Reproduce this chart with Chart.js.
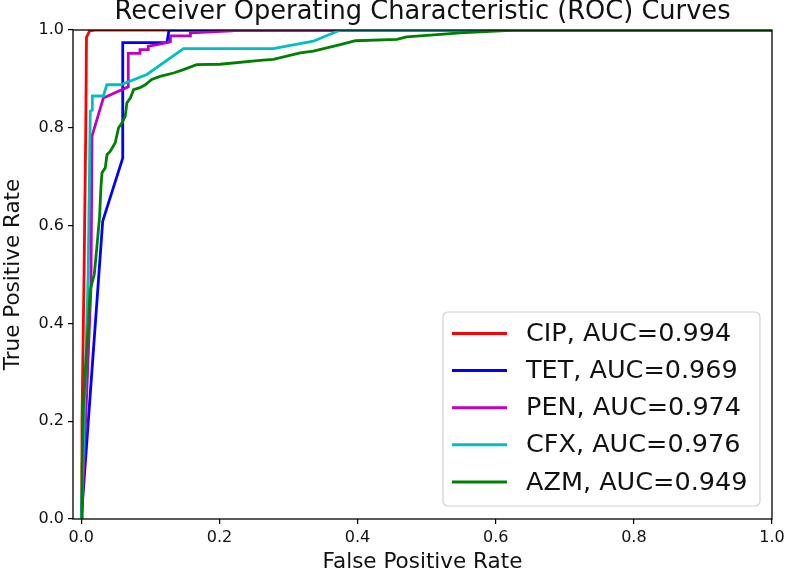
<!DOCTYPE html>
<html>
<head>
<meta charset="utf-8">
<script src="https://cdn.jsdelivr.net/npm/chart.js@4"></script>
<style>
  html, body { margin: 0; padding: 0; background: #fff; }
  #wrap { width: 786px; height: 575px; }
</style>
</head>
<body>
<div id="wrap"><canvas id="rocChart" width="786" height="575"></canvas></div>
<script>
// Valores (FPR / TPR de cada curva)
const chartTitle = "Receiver Operating Characteristic (ROC) Curves";
const seriesNames = ["CIP, AUC=0.994", "TET, AUC=0.969", "PEN, AUC=0.974", "CFX, AUC=0.976", "AZM, AUC=0.949"];
const seriesColors = ["#ff0000", "#0000ff", "#bf00bf", "#00bfbf", "#008000"];

const cipFpr = [0, 0.001, 0.004, 0.0065, 0.0075, 0.012, 0.02, 1];
const cipTpr = [0, 0.2, 0.5, 0.8, 0.985, 0.998, 1, 1];

const tetFpr = [0, 0.002, 0.031, 0.060, 0.060, 0.124, 0.127, 1];
const tetTpr = [0, 0.04, 0.609, 0.738, 0.974, 0.974, 1, 1];

const penFpr = [0, 0.004, 0.014, 0.0155, 0.032, 0.068, 0.068, 0.085, 0.085, 0.097, 0.097, 0.11, 0.124, 0.129, 0.129, 0.158, 0.158, 0.218, 0.23, 1];
const penTpr = [0, 0.12, 0.475, 0.783, 0.861, 0.884, 0.952, 0.952, 0.960, 0.960, 0.967, 0.970, 0.974, 0.976, 0.988, 0.988, 0.994, 0.998, 1, 1];

const cfxFpr = [0, 0.004, 0.010, 0.013, 0.016, 0.016, 0.032, 0.037, 0.057, 0.095, 0.148, 0.278, 0.336, 0.368, 0.375, 1];
const cfxTpr = [0, 0.2, 0.5, 0.834, 0.836, 0.865, 0.865, 0.888, 0.888, 0.909, 0.962, 0.962, 0.977, 0.996, 1, 1];

const azmFpr = [0, 0.001, 0.003, 0.013, 0.0188, 0.0227, 0.0265, 0.0285, 0.030, 0.0347, 0.0372, 0.042, 0.049, 0.054, 0.059, 0.0637, 0.066, 0.071, 0.0757, 0.085, 0.0926, 0.102, 0.114, 0.1336, 0.148, 0.167, 0.201, 0.259, 0.278, 0.317, 0.336, 0.375, 0.397, 0.457, 0.471, 0.52, 0.548, 0.592, 0.63, 1];
const azmTpr = [0, 0.1, 0.234, 0.469, 0.5, 0.558, 0.619, 0.680, 0.708, 0.718, 0.745, 0.752, 0.769, 0.800, 0.81, 0.824, 0.851, 0.861, 0.878, 0.882, 0.888, 0.899, 0.905, 0.912, 0.919, 0.929, 0.930, 0.938, 0.940, 0.953, 0.957, 0.970, 0.978, 0.981, 0.986, 0.991, 0.994, 0.997, 1, 1];

const xTicks = [0, 0.2, 0.4, 0.6, 0.8, 1.0];
const yTicks = [0, 0.2, 0.4, 0.6, 0.8, 1.0];

const fprList = [cipFpr, tetFpr, penFpr, cfxFpr, azmFpr];
const tprList = [cipTpr, tetTpr, penTpr, cfxTpr, azmTpr];

const FONT = "'DejaVu Sans', sans-serif";

// Montar os datasets a partir dos arrays
const datasets = seriesNames.map((name, i) => ({
  label: name,
  data: fprList[i].map((x, k) => ({ x: x, y: tprList[i][k] })),
  borderColor: seriesColors[i],
  backgroundColor: seriesColors[i],
  borderWidth: 2.8,
  pointRadius: 0,
  tension: 0,
  fill: false,
  order: seriesNames.length - i // o último (AZM) fica por cima
}));

// Título centrado sobre a área do gráfico (como no matplotlib)
const titlePlugin = {
  id: "plotTitle",
  afterDraw(chart) {
    const { ctx, chartArea: a } = chart;
    ctx.save();
    ctx.font = "25.7px " + FONT;
    ctx.fillStyle = "#111";
    ctx.textAlign = "center";
    ctx.textBaseline = "alphabetic";
    ctx.fillText(chartTitle, (a.left + a.right) / 2, 19);
    ctx.restore();
  }
};

// Moldura completa do gráfico
const framePlugin = {
  id: "frame",
  afterDatasetsDraw(chart) {
    const { ctx, chartArea: a } = chart;
    ctx.save();
    ctx.strokeStyle = "#000";
    ctx.lineWidth = 1.3;
    ctx.strokeRect(a.left, a.top, a.right - a.left, a.bottom - a.top);
    ctx.restore();
  }
};

// Legenda dentro do gráfico, canto inferior direito
const innerLegend = {
  id: "innerLegend",
  afterDraw(chart) {
    const ctx = chart.ctx;
    const bx = 443, by = 312, bw = 317, bh = 194, r = 5;
    ctx.save();
    ctx.beginPath();
    ctx.roundRect(bx, by, bw, bh, r);
    ctx.fillStyle = "rgba(255,255,255,0.85)";
    ctx.fill();
    ctx.strokeStyle = "#d0d0d0";
    ctx.lineWidth = 1.2;
    ctx.stroke();
    ctx.font = "25.5px " + FONT;
    ctx.textBaseline = "middle";
    ctx.fillStyle = "#111";
    chart.data.datasets.forEach((ds, i) => {
      const y = 333.5 + i * 37.1;
      ctx.beginPath();
      ctx.moveTo(452, y);
      ctx.lineTo(507, y);
      ctx.strokeStyle = ds.borderColor;
      ctx.lineWidth = 3;
      ctx.stroke();
      ctx.fillText(ds.label, 526, y + 1);
    });
    ctx.restore();
  }
};

const ctx = document.getElementById("rocChart").getContext("2d");
const rocChart = new Chart(ctx, {
  type: "line",
  data: { datasets: datasets },
  options: {
    responsive: false,
    animation: false,
    layout: { padding: { left: 0, right: 0, top: 30, bottom: 0 } },
    plugins: {
      legend: { display: false },
      tooltip: { enabled: false },
      title: { display: false }
    },
    scales: {
      x: {
        type: "linear",
        min: -0.012,
        max: 1.0,
        afterBuildTicks(scale) { scale.ticks = xTicks.map(v => ({ value: v })); },
        afterFit(scale) { scale.height = 56; scale.paddingRight = 14; },
        grid: { drawOnChartArea: false, drawTicks: true, tickLength: 5, color: "#000", lineWidth: 1.2 },
        border: { display: false },
        ticks: {
          color: "#111",
          padding: 4,
          maxRotation: 0,
          font: { family: FONT, size: 16 },
          callback: v => v.toFixed(1)
        },
        title: {
          display: true,
          text: "False Positive Rate",
          color: "#111",
          font: { family: FONT, size: 21.5 },
          padding: { top: 0, bottom: 0 }
        }
      },
      y: {
        type: "linear",
        min: 0,
        max: 1.0,
        afterBuildTicks(scale) { scale.ticks = yTicks.map(v => ({ value: v })); },
        afterFit(scale) { scale.width = 73; },
        grid: { drawOnChartArea: false, drawTicks: true, tickLength: 5, color: "#000", lineWidth: 1.2 },
        border: { display: false },
        ticks: {
          color: "#111",
          padding: 4,
          font: { family: FONT, size: 16 },
          callback: v => v.toFixed(1)
        },
        title: {
          display: true,
          text: "True Positive Rate",
          color: "#111",
          font: { family: FONT, size: 21.5 },
          padding: { top: 1, bottom: 0 }
        }
      }
    }
  },
  plugins: [framePlugin, innerLegend, titlePlugin]
});
</script>
</body>
</html>
